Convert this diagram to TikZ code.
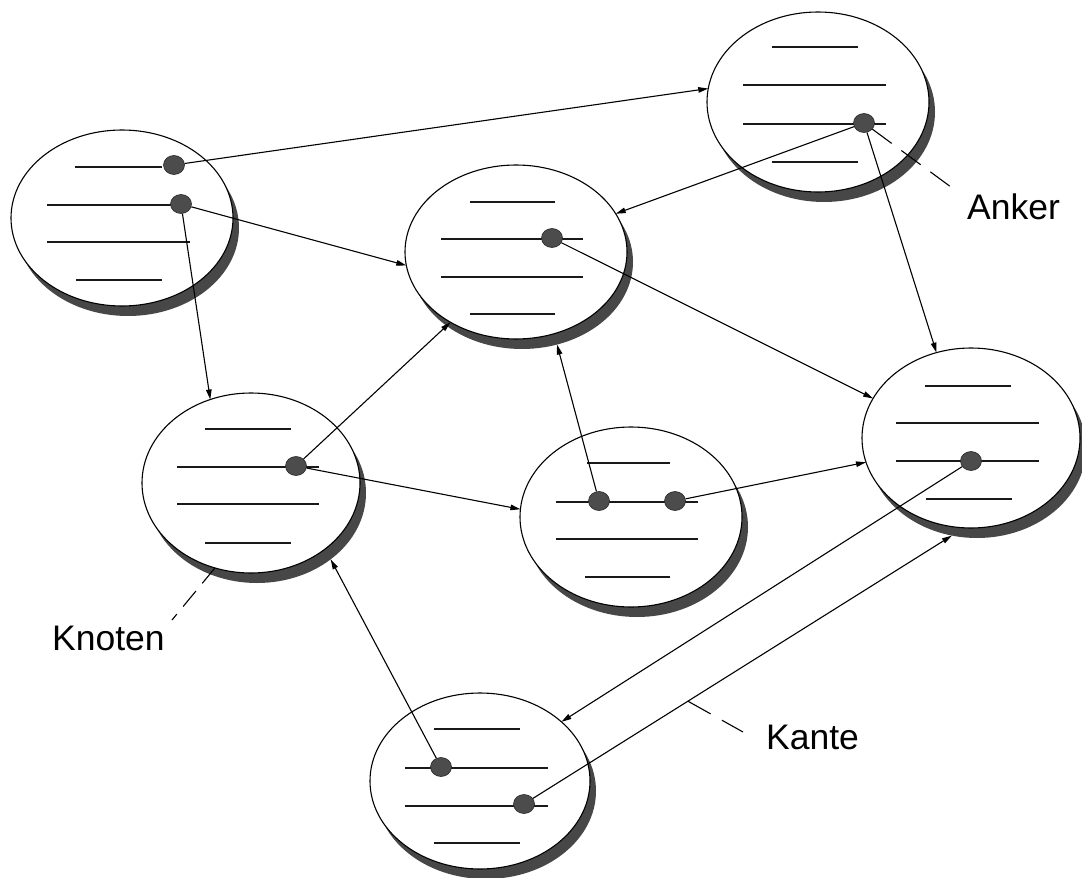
\documentclass[tikz,border=0pt]{standalone}
\usepackage{fontspec}
\setmainfont{Liberation Sans}
\usetikzlibrary{shapes.geometric,arrows.meta}
\tikzset{
  ell/.style={ellipse,draw=black,fill=white,line width=1.1pt,inner sep=0pt,outer sep=0pt},
  shd/.style={ellipse,draw=none,fill=black!72,inner sep=0pt,outer sep=0pt},
  dot/.style={ellipse,draw=black!85,fill=black!70,line width=0.6pt,minimum width=21pt,minimum height=19pt,inner sep=0pt},
  txt/.style={line width=1.4pt,black!90},
  arr/.style={line width=1.1pt,-{Triangle[length=10pt,width=5.5pt]}},
  lead/.style={line width=1.1pt,dash pattern=on 24pt off 12pt},
  lbl/.style={inner sep=0pt,font=\fontsize{35.5}{40}\selectfont}
}
\begin{document}
\begin{tikzpicture}[x=1pt,y=-1pt]
\useasboundingbox (0,0) rectangle (1082,878);
% shadows
\node[shd,minimum width=222pt,minimum height=176pt] (S1) at (128,228) {};
\node[shd,minimum width=222pt,minimum height=180pt] (S2) at (824,112) {};
\node[shd,minimum width=222pt,minimum height=174pt] (S3) at (522,262) {};
\node[shd,minimum width=218pt,minimum height=180pt] (S4) at (257,493) {};
\node[shd,minimum width=222pt,minimum height=180pt] (S5) at (637,527) {};
\node[shd,minimum width=218pt,minimum height=180pt] (S6) at (977,448) {};
\node[shd,minimum width=220pt,minimum height=176pt] (S7) at (486,791) {};
% ellipses
\node[ell,minimum width=222pt,minimum height=176pt] (E1) at (122,218) {};
\node[ell,minimum width=222pt,minimum height=180pt] (E2) at (818,102) {};
\node[ell,minimum width=222pt,minimum height=174pt] (E3) at (516,252) {};
\node[ell,minimum width=218pt,minimum height=180pt] (E4) at (251,483) {};
\node[ell,minimum width=222pt,minimum height=180pt] (E5) at (631,517) {};
\node[ell,minimum width=218pt,minimum height=180pt] (E6) at (971,438) {};
\node[ell,minimum width=220pt,minimum height=176pt] (E7) at (480,781) {};
% inner lines
\draw[txt] (75,167) -- (162,167);
\draw[txt] (47,205) -- (178,205);
\draw[txt] (47,242) -- (190,242);
\draw[txt] (76,280) -- (162,280);
\draw[txt] (772,47) -- (858,47);
\draw[txt] (743,85) -- (886,85);
\draw[txt] (743,124) -- (886,124);
\draw[txt] (772,162) -- (858,162);
\draw[txt] (470,202) -- (555,202);
\draw[txt] (441,239) -- (583,239);
\draw[txt] (441,277) -- (583,277);
\draw[txt] (470,314) -- (555,314);
\draw[txt] (205,429) -- (291,429);
\draw[txt] (177,467) -- (319,467);
\draw[txt] (177,504) -- (319,504);
\draw[txt] (205,543) -- (291,543);
\draw[txt] (587,463) -- (670,463);
\draw[txt] (556,502) -- (698,502);
\draw[txt] (556,539) -- (698,539);
\draw[txt] (585,577) -- (670,577);
\draw[txt] (925,386) -- (1011,386);
\draw[txt] (896,423) -- (1039,423);
\draw[txt] (896,461) -- (1039,461);
\draw[txt] (926,499) -- (1012,499);
\draw[txt] (434,729) -- (520,729);
\draw[txt] (405,768) -- (548,768);
\draw[txt] (405,806) -- (548,806);
\draw[txt] (434,843) -- (520,843);
% anchors (dots)
\node[dot] (d1a) at (174,165) {};
\node[dot] (d1b) at (181,204) {};
\node[dot] (d2) at (864,123) {};
\node[dot] (d3) at (552,238) {};
\node[dot] (d4) at (296,466) {};
\node[dot] (d5a) at (599,501) {};
\node[dot] (d5b) at (675,501) {};
\node[dot] (d6) at (971,461) {};
\node[dot] (d7a) at (441,767) {};
\node[dot] (d7b) at (524,804) {};
% edges
\draw[arr] (d1a) -- (E2.173);
\draw[arr] (d1b) -- (E3.187);
\draw[arr] (d1b) -- (E4.116);
\draw[arr] (d2) -- (E3.21);
\draw[arr] (d2) -- (E6.112);
\draw[arr] (d3) -- (E6.158);
\draw[arr] (d4) -- (E3.227);
\draw[arr] (d4) -- (E5.176);
\draw[arr] (d5a) -- (S3.293);
\draw[arr] (d5b) -- (E6.193);
\draw[arr] (d6) -- (E7.36);
\draw[arr] (d7b) -- coordinate[pos=0.37] (kp) (S6.254);
\draw[arr] (d7a) -- (S4.318);
% labels
\node[lbl,anchor=base west] (Knoten) at (52,650) {Knoten};
\node[lbl,anchor=base west] (Anker) at (967,219) {Anker};
\node[lbl,anchor=base west] (Kante) at (766,749) {Kante};
% leaders
\coordinate (ankc) at (955,190);
\coordinate (knc) at (172,620);
\coordinate (kac) at (743,732);
\draw[lead] (d2) -- (ankc);
\draw[lead,dash pattern=on 20pt off 10pt] (E4.247) -- (knc);
\draw[lead,dash pattern=on 26pt off 13pt] (kp) -- (kac);
\end{tikzpicture}
\end{document}
